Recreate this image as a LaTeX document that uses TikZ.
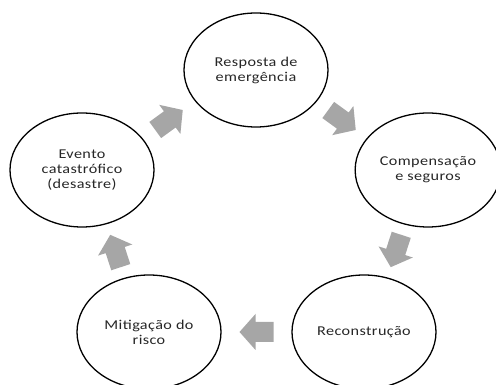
\documentclass[tikz,border=0pt]{standalone}
\usepackage{fontspec}
\setmainfont[FakeStretch=1.2,LetterSpace=3]{Carlito}
\usetikzlibrary{shapes.geometric,calc}
\definecolor{setagray}{RGB}{166,166,166}
\tikzset{
    fase/.style={ellipse,draw,line width=1.3pt,minimum width=144pt,minimum height=114pt,
        align=center,text=black!85,font=\fontsize{13.5}{15}\selectfont},
    setafill/.style={fill=setagray}
}
\begin{document}
\begin{tikzpicture}[x=1pt,y=1pt]
            \useasboundingbox (0,0) rectangle (496,385);

            \node[fase] (resp) at (256,315) {Resposta de\\emergência};
            \node[fase] (comp) at (428,215) {Compensação\\e seguros};
            \node[fase] (rec) at (364,53) {Reconstrução};
            \node[fase] (mit) at (149,53) {Mitigação do\\risco};
            \node[fase] (ev) at (82,215) {Evento\\catastrófico\\(desastre)};

            \foreach \s/\t/\r in {ev/resp/36,resp/comp/-36,comp/rec/-108,rec/mit/180,mit/ev/108}
                {
                    \fill[setafill,shift={($(\s)!0.5!(\t)$)},rotate=\r]
                        (-17,-10) -- (1,-10) -- (1,-18) -- (17,0) -- (1,18) -- (1,10) -- (-17,10) -- cycle;
                }
        \end{tikzpicture}
\end{document}
